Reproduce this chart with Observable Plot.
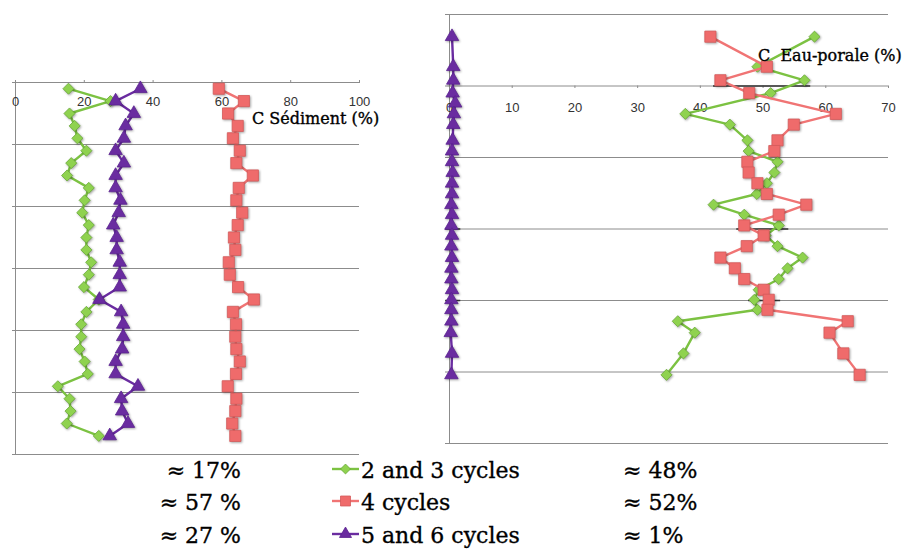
<!DOCTYPE html>
<html><head><meta charset="utf-8">
<script src="https://cdn.jsdelivr.net/npm/d3@7"></script>
<script src="https://cdn.jsdelivr.net/npm/@observablehq/plot@0.6"></script>
<style>
body{margin:0;background:#fff;}
#wrap{position:relative;width:906px;height:551px;overflow:hidden;background:#fff;}
#wrap > svg{position:absolute;}
#wrap g[aria-label="dot"]{filter:drop-shadow(1px 1.2px 0.8px rgba(0,0,0,0.35));}
</style></head><body><div id="wrap"></div>
<script>
// ---------- data ----------
const seriesNames = ["2 and 3 cycles", "4 cycles", "5 and 6 cycles"];
const seriesColors = ["#7cc242", "#f07474", "#6a2ca0"];
const seriesFills = ["#8fd24f", "#ef6b6b", "#6a2ca0"];
const seriesStrokes = ["#69a83a", "#d45a5a", "#5a2290"];
const seriesSymbols = ["diamond2", "square", "triangle"];

const sedDepth = [1,3,5,7,9,11,13,15,17,19,21,23,25,27,29,31,33,35,37,39,41,43,45,47,49,51,53,55,57];
const sedGreen = [15.4,27.6,15.7,17.2,18.0,20.6,16.2,15.0,21.3,20.1,19.4,21.3,20.6,20.6,22.0,21.3,19.9,24.2,20.6,19.1,19.1,18.6,20.1,21.0,12.3,15.7,16.0,14.9,24.2];
const sedRed = [59.1,66.4,61.8,64.6,63.2,65.2,64.2,69.0,64.9,64.2,65.9,64.6,63.5,63.9,62.0,62.3,64.7,69.3,63.2,64.1,63.9,64.2,65.2,64.1,61.7,64.2,63.9,63.0,63.9];
const sedPurple = [36.3,29.1,34.4,32.0,31.5,29.1,31.5,29.1,29.1,30.5,30.0,28.4,29.4,29.4,30.3,30.3,30.3,24.4,30.7,31.3,31.3,31.0,29.1,29.1,35.6,30.7,31.0,32.7,27.4];

const poreDepth = [3.1,7.3,9.2,11.0,13.9,15.4,17.6,19.1,20.6,22.1,23.6,25.1,26.6,28.0,29.5,30.9,32.4,34.0,35.5,37.0,38.5,39.9,41.3,42.9,44.5,47.4,50.4];
const poreGreen = [58.2,49.1,56.6,51.2,37.6,44.7,47.5,47.7,52.3,51.8,50.6,49.0,42.1,47.0,52.5,50.4,52.3,56.3,53.9,52.5,49.3,48.6,49.1,36.4,39.1,37.3,34.6];
const poreRed = [41.6,50.6,43.2,47.8,61.6,54.9,52.3,51.8,47.5,47.7,49.1,50.6,56.9,52.5,47.0,50.1,47.4,43.2,45.5,47.0,50.1,50.9,50.7,63.5,60.6,62.8,65.4];
const porePurpleDepth = [3.1,7.3,9.2,11.0,12.4,13.9,15.4,17.6,19.1,20.6,22.1,23.6,25.1,26.6,28.0,29.5,30.9,32.4,34.0,35.5,37.0,38.5,39.9,41.3,42.9,44.5,47.4,50.4];
const porePurple = [0.4,0.6,0.6,0.5,0.9,0.7,0.6,0.5,0.4,0.4,0.5,0.4,0.4,0.3,0.4,0.3,0.4,0.3,0.4,0.3,0.3,0.4,0.3,0.3,0.3,0.2,0.4,0.3];
// short dark bars visible on some gridlines of the pore-water panel
const poreBarDepth = [10, 30, 40, 30, 40];
const poreBarFrom = [42.1, 45.8, 47.7, -0.6, -0.6];
const poreBarTo = [57.6, 54.1, 52.8, 1.8, 1.8];

const sedTicks = [0,20,40,60,80,100];
const poreTicks = [0,10,20,30,40,50,60,70];
const depthGrid = [0,10,20,30,40,50,60];
const poreAxisCross = 10;

const sedTitle = "C Sédiment (%)";
const poreTitle = "C  Eau-porale (%)";
const sedShares = ["≈ 17%", "≈ 57 %", "≈ 27 %"];
const poreShares = ["≈ 48%", "≈ 52%", "≈ 1%"];

// ---------- tables ----------
function table(depths, values, i){ return depths.map((d,k)=>({series: seriesNames[i], depth: d, value: values[k]})); }
const sedRows = [table(sedDepth, sedGreen, 0), table(sedDepth, sedRed, 1), table(sedDepth, sedPurple, 2)];
const poreRows = [table(poreDepth, poreGreen, 0), table(poreDepth, poreRed, 1), table(porePurpleDepth, porePurple, 2)];
const poreBars = poreBarDepth.map((d,k)=>({depth: d, from: poreBarFrom[k], to: poreBarTo[k]}));

const markR = [5.0, 6.3, 5.0];
function seriesMarks(rows){
  const out = [];
  rows.forEach((r,i)=>{
    out.push(Plot.line(r, {x:"value", y:"depth", stroke: seriesColors[i], strokeWidth: 2.4}));
    out.push(Plot.dot(r, {x:"value", y:"depth", symbol: seriesSymbols[i], r: markR[i], fill: seriesFills[i], stroke: seriesStrokes[i], strokeWidth: 0.8}));
  });
  return out;
}
const grid = "#8c8c8c";
const baseStyle = {fontFamily: "'Liberation Sans', Arial, sans-serif", fontSize: "13px", color: "#333", background: "transparent", overflow: "visible"};

const wrap = document.getElementById("wrap");

const sed = Plot.plot({
  width: 400, height: 470,
  marginLeft: 15, marginRight: 41, marginTop: 82, marginBottom: 16,
  x: {domain: [0, 100]},
  y: {domain: [0, 60], reverse: true},
  style: baseStyle,
  marks: [
    Plot.ruleY(depthGrid, {stroke: grid, strokeWidth: 1}),
    Plot.ruleX([0], {stroke: grid}),
    Plot.axisY(depthGrid, {anchor: "left", tickSize: 3, tickFormat: () => "", stroke: grid, label: null}),
    Plot.axisX(sedTicks, {anchor: "top", tickSize: 3, tickPadding: -17, lineAnchor: "top", stroke: grid, fill: "#333", label: null}),
    ...seriesMarks(sedRows)
  ]
});
sed.style.left = "0px"; sed.style.top = "0px";
wrap.appendChild(sed);

const pore = Plot.plot({
  width: 476, height: 470,
  marginLeft: 19, marginRight: 18, marginTop: 14, marginBottom: 27,
  x: {domain: [0, 70]},
  y: {domain: [0, 60], reverse: true},
  style: baseStyle,
  marks: [
    Plot.ruleY(depthGrid, {stroke: grid, strokeWidth: 1}),
    Plot.ruleX([0], {stroke: grid}),
    Plot.axisY(depthGrid, {anchor: "left", tickSize: 4, tickFormat: () => "", stroke: grid, label: null}),
    Plot.ruleX(poreTicks, {x: d => d, y1: poreAxisCross, y2: poreAxisCross + 0.35, stroke: grid}),
    Plot.axisX(poreTicks, {anchor: "top", tickSize: 0, tickPadding: -88, lineAnchor: "top", fill: "#333", label: null}),
    Plot.ruleY(poreBars, {y: "depth", x1: "from", x2: "to", stroke: "#333", strokeWidth: 1.5}),
    ...seriesMarks(poreRows)
  ]
});
pore.style.left = "430px"; pore.style.top = "0px";
wrap.appendChild(pore);

// ---------- titles & legend (overlay) ----------
const ov = d3.select(wrap).append("svg")
  .attr("width", 906).attr("height", 551)
  .style("left","0px").style("top","0px").style("pointer-events","none")
  .attr("font-family", "'DejaVu Serif', Georgia, serif").attr("fill", "#000")
  .attr("stroke", "#000").attr("stroke-width", 0.35);

ov.append("text").attr("x", 252).attr("y", 124).attr("font-size", 16).text(sedTitle);
ov.append("text").attr("x", 758).attr("y", 61).attr("font-size", 16).attr("xml:space","preserve").style("white-space","pre").text(poreTitle);

const baselines = [478, 510, 543];
seriesNames.forEach((name, i) => {
  const b = baselines[i];
  const cy = b - 9;
  ov.append("line").attr("x1", 332).attr("x2", 359).attr("y1", cy).attr("y2", cy)
    .attr("stroke", seriesColors[i]).attr("stroke-width", 2.4);
  ov.append("path").attr("transform", `translate(345.5,${cy})`)
    .attr("d", d3.symbol(d3["symbol" + seriesSymbols[i][0].toUpperCase() + seriesSymbols[i].slice(1)], Math.PI * markR[i] * markR[i] * 0.8)())
    .attr("fill", seriesFills[i]).attr("stroke", seriesStrokes[i]).attr("stroke-width", 0.8);
  ov.append("text").attr("x", 361).attr("y", b).attr("font-size", 22).text(name);
  ov.append("text").attr("x", 241).attr("y", b).attr("font-size", 22).attr("text-anchor", "end").text(sedShares[i]);
  ov.append("text").attr("x", 623).attr("y", b).attr("font-size", 22).text(poreShares[i]);
});
</script>
</body></html>
